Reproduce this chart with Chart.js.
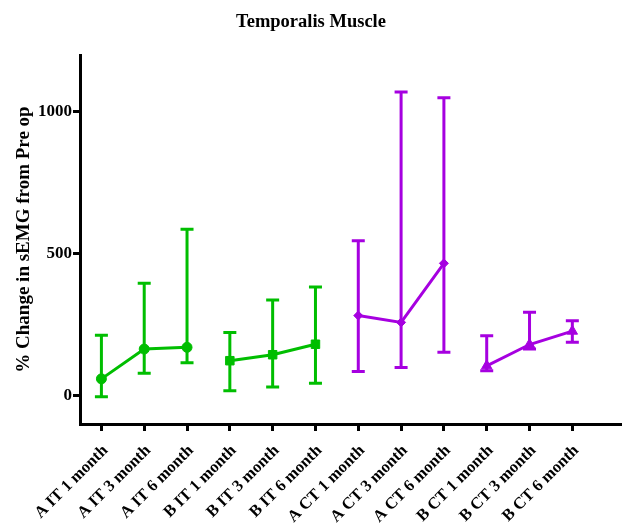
<!DOCTYPE html>
<html>
<head>
<meta charset="utf-8">
<style>
  html, body { margin: 0; padding: 0; background: #fff; }
  #wrap { width: 622px; height: 524px; }
</style>
<script src="https://cdn.jsdelivr.net/npm/chart.js@4"></script>
</head>
<body>
<div id="wrap"><canvas id="canvas"></canvas></div>
<script>
var labels = ['A IT 1 month', 'A IT 3 month', 'A IT 6 month',
              'B IT 1 month', 'B IT 3 month', 'B IT 6 month',
              'A CT 1 month', 'A CT 3 month', 'A CT 6 month',
              'B CT 1 month', 'B CT 3 month', 'B CT 6 month'];
var yTicks = [0, 500, 1000];

var seriesNames = ['A IT', 'B IT', 'A CT', 'B CT'];
var seriesPositions = [[1, 2, 3], [4, 5, 6], [7, 8, 9], [10, 11, 12]];
var seriesMeans = [[59, 164, 170], [123, 144, 181], [282, 258, 466], [105, 180, 227]];
var seriesUpper = [[213, 396, 586], [222, 337, 383], [546, 1070, 1049], [211, 294, 264]];
var seriesLower = [[-4, 79, 116], [17, 30, 44], [85, 99, 153], [88, 164, 188]];

var green = '#00BE00';
var purple = '#A600E0';
var seriesColors = [green, green, purple, purple];
var seriesMarkers = ['circle', 'rect', 'rectRot', 'triangle'];
var markerSizes = [5, 6, 4.5, 6];

var serif = '"Liberation Serif", "Times New Roman", serif';

// error bars drawn from the same scales as the points
var errorBars = {
    id: 'errorBars',
    beforeDatasetsDraw: function (chart) {
        var ctx = chart.ctx, xs = chart.scales.x, ys = chart.scales.y;
        ctx.save();
        ctx.lineWidth = 3;
        ctx.lineCap = 'butt';
        seriesPositions.forEach(function (pos, s) {
            ctx.strokeStyle = seriesColors[s];
            pos.forEach(function (p, i) {
                var x = xs.getPixelForValue(p);
                var yHi = ys.getPixelForValue(seriesUpper[s][i]);
                var yLo = ys.getPixelForValue(seriesLower[s][i]);
                ctx.beginPath();
                ctx.moveTo(x, yHi); ctx.lineTo(x, yLo);
                ctx.moveTo(x - 6.5, yHi); ctx.lineTo(x + 6.5, yHi);
                ctx.moveTo(x - 6.5, yLo); ctx.lineTo(x + 6.5, yLo);
                ctx.stroke();
            });
        });
        ctx.restore();
    }
};

var config = {type: 'line', plugins: [errorBars]};

config.data = {};
config.data.datasets = seriesNames.map(function (name, s) {
    return {
        label: name,
        data: seriesPositions[s].map(function (p, i) {
            return {x: p, y: seriesMeans[s][i]};
        }),
        borderColor: seriesColors[s],
        backgroundColor: seriesColors[s],
        pointBackgroundColor: seriesColors[s],
        pointBorderColor: seriesColors[s],
        pointStyle: seriesMarkers[s],
        pointRadius: markerSizes[s],
        pointBorderWidth: 1,
        borderWidth: 3,
        tension: 0
    };
});

config.options = {
    responsive: false,
    animation: false,
    events: [],
    layout: {autoPadding: false, padding: 0},
    plugins: {
        legend: {display: false},
        tooltip: {enabled: false},
        title: {
            display: true,
            text: 'Temporalis Muscle',
            color: '#000',
            font: {family: serif, size: 18.5, weight: 'bold'},
            padding: {top: 11, bottom: 21.8}
        }
    },
    scales: {
        x: {
            type: 'linear',
            min: 0.5,
            max: 13.16,
            afterBuildTicks: function (axis) {
                axis.ticks = labels.map(function (l, i) { return {value: i + 1}; });
            },
            afterFit: function (axis) {
                axis.height = 100;
                axis.paddingRight = 0;
                axis.paddingLeft = 0;
            },
            ticks: {
                autoSkip: false,
                minRotation: 45,
                maxRotation: 45,
                padding: 10,
                labelOffset: 4,
                color: '#000',
                font: {family: serif, size: 16.5, weight: 'bold'},
                callback: function (v) { return labels[Math.round(v) - 1]; }
            },
            grid: {drawOnChartArea: false, drawTicks: true, tickLength: 7, tickWidth: 3, tickColor: '#000'},
            border: {color: '#000', width: 3}
        },
        y: {
            min: -100,
            max: 1200,
            afterBuildTicks: function (axis) {
                axis.ticks = yTicks.map(function (v) { return {value: v}; });
            },
            afterFit: function (axis) { axis.width = 80; },
            ticks: {
                padding: 1,
                color: '#000',
                font: {family: serif, size: 17, weight: 'bold'},
                callback: function (v) { return String(v); }
            },
            grid: {drawOnChartArea: false, drawTicks: true, tickLength: 7, tickWidth: 3, tickColor: '#000'},
            border: {color: '#000', width: 3},
            title: {
                display: true,
                text: '% Change in sEMG from Pre op',
                color: '#000',
                font: {family: serif, size: 19, weight: 'bold'},
                padding: {top: 13, bottom: 0}
            }
        }
    }
};

var canvas = document.getElementById('canvas');
canvas.width = 622;
canvas.height = 524;
var temporalisChart = new Chart(canvas, config);
</script>
</body>
</html>
